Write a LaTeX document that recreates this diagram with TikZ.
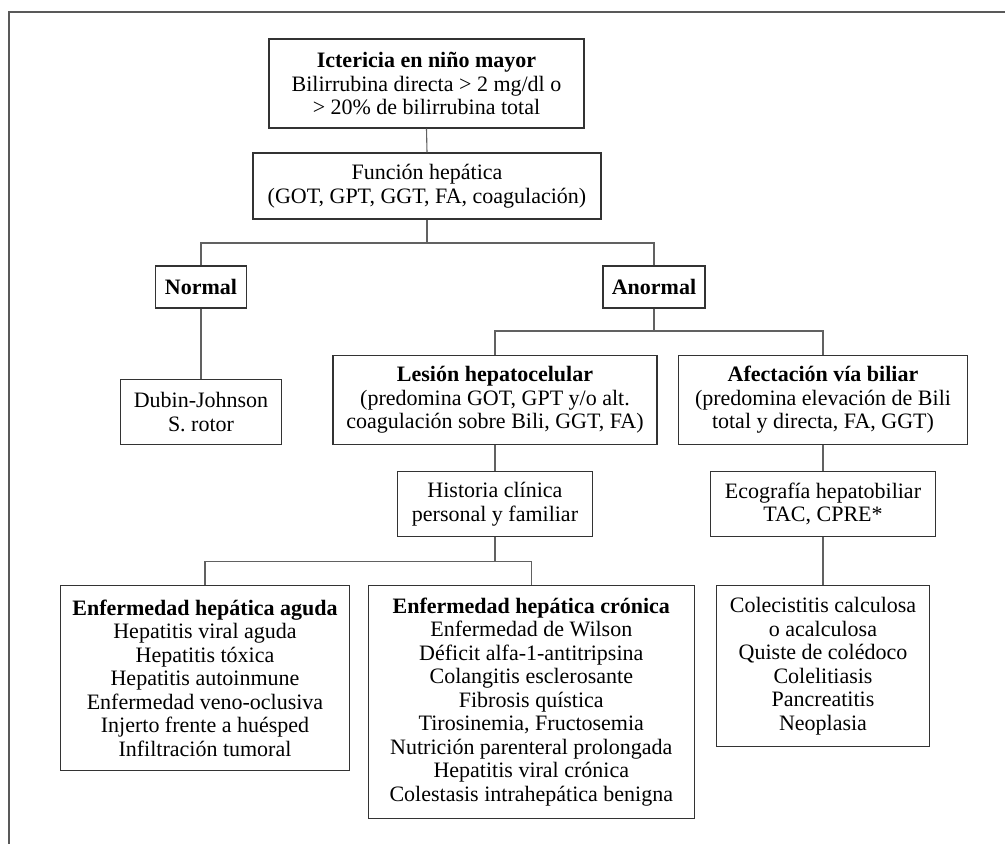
\documentclass[tikz,border=0pt]{standalone}
\usepackage{fontspec}
\setmainfont{Liberation Serif}
\definecolor{boxline}{gray}{0.2}
\definecolor{linkgray}{gray}{0.38}
\definecolor{framegray}{gray}{0.35}
\begin{document}
\begin{tikzpicture}[x=1pt,y=-1pt,
  box/.style={draw=boxline, line width=1.1pt, align=center, inner sep=0pt,
    font=\fontsize{22}{23.5}\selectfont},
  link/.style={draw=linkgray, line width=1.1pt},
  frameline/.style={draw=framegray, line width=1.8pt}]
\useasboundingbox (0,0) rectangle (1005,844);
% open frame (top and left sides only)
\draw[frameline] (1005,11.7) -- (9.3,11.7) -- (9.3,844);

% boxes
\node[box, minimum width=315pt, minimum height=89pt] (top) at (426.5,83.5)
  {\textbf{Ictericia en niño mayor}\\Bilirrubina directa > 2 mg/dl o\\> 20\% de bilirrubina total};
\node[box, minimum width=348pt, minimum height=66pt] (func) at (427,186)
  {Función hepática\\(GOT, GPT, GGT, FA, coagulación)};
\node[box, minimum width=91pt, minimum height=42pt] (normal) at (201,287)
  {\textbf{Normal}};
\node[box, minimum width=102pt, minimum height=42pt] (anormal) at (654,287)
  {\textbf{Anormal}};
\node[box, minimum width=160.6pt, minimum height=65.7pt] (dubin) at (201,412)
  {Dubin-Johnson\\S. rotor};
\node[box, minimum width=324pt, minimum height=89pt] (lesion) at (495,400)
  {\textbf{Lesión hepatocelular}\\(predomina GOT, GPT y/o alt.\\coagulación sobre Bili, GGT, FA)};
\node[box, minimum width=288.6pt, minimum height=89pt] (afect) at (823,400)
  {\textbf{Afectación vía biliar}\\(predomina elevación de Bili\\total y directa, FA, GGT)};
\node[box, minimum width=195pt, minimum height=65.7pt] (historia) at (495,504)
  {Historia clínica\\personal y familiar};
\node[box, minimum width=225.7pt, minimum height=65.7pt] (eco) at (823,504)
  {Ecografía hepatobiliar\\TAC, CPRE*};
\node[box, minimum width=288.6pt, minimum height=185.7pt] (aguda) at (205,678)
  {\textbf{Enfermedad hepática aguda}\\Hepatitis viral aguda\\Hepatitis tóxica\\Hepatitis autoinmune\\Enfermedad veno-oclusiva\\Injerto frente a huésped\\Infiltración tumoral};
\node[box, minimum width=326pt, minimum height=233pt] (cronica) at (531.3,702)
  {\textbf{Enfermedad hepática crónica}\\Enfermedad de Wilson\\Déficit alfa-1-antitripsina\\Colangitis esclerosante\\Fibrosis quística\\Tirosinemia, Fructosemia\\Nutrición parenteral prolongada\\Hepatitis viral crónica\\Colestasis intrahepática benigna};
\node[box, minimum width=212.3pt, minimum height=161pt] (coleci) at (823,666)
  {Colecistitis calculosa\\o acalculosa\\Quiste de colédoco\\Colelitiasis\\Pancreatitis\\Neoplasia};

% branch points
\coordinate (j1) at (427,243);
\coordinate (j2) at (654,331);
\coordinate (j3) at (495,561.7);

% connectors
\draw[link] (top.south) -- (func.north);
\draw[link] (func.south) -- (j1);
\draw[link] (normal.north) |- (j1) -| (anormal.north);
\draw[link] (normal.south) -- (dubin.north);
\draw[link] (anormal.south) -- (j2);
\draw[link] (lesion.north) |- (j2) -| (afect.north);
\draw[link] (lesion.south) -- (historia.north);
\draw[link] (historia.south) -- (j3);
\draw[link] (aguda.north) |- (j3) -| (cronica.north);
\draw[link] (afect.south) -- (eco.north);
\draw[link] (eco.south) -- (coleci.north);
\end{tikzpicture}
\end{document}
